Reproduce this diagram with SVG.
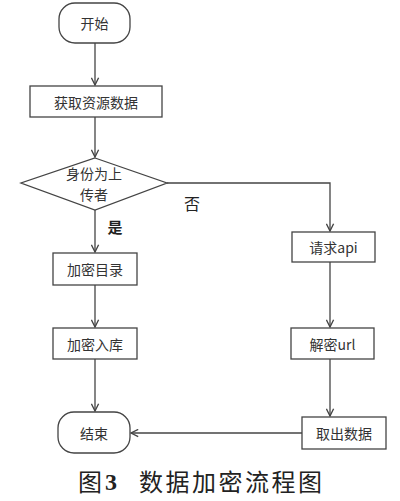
<svg xmlns="http://www.w3.org/2000/svg" width="400" height="501" viewBox="0 0 400 501">
<defs>
<style>
.n{fill:#fff;stroke:#444;stroke-width:1.3}
.t{font-family:"Noto Sans CJK SC",sans-serif;font-size:14px;fill:#333;text-anchor:middle;dominant-baseline:central}
.c{fill:none;stroke:#444;stroke-width:1.3}
.l{font-family:"Noto Sans CJK SC",sans-serif;fill:#222;text-anchor:middle;dominant-baseline:central}
</style>
<marker id="a" viewBox="0 0 10 10" refX="9" refY="5" markerWidth="9" markerHeight="9" markerUnits="userSpaceOnUse" orient="auto">
<polyline points="1,1 9,5 1,9" fill="none" stroke="#444" stroke-width="1.5"/>
</marker>
</defs>
<rect width="400" height="501" fill="#fff"/>
<g id="connectors">
<line class="c" x1="95" y1="43" x2="95" y2="85" marker-end="url(#a)"/>
<line class="c" x1="95" y1="117" x2="95" y2="157" marker-end="url(#a)"/>
<polyline class="c" points="167,183 330,183 330,231" marker-end="url(#a)"/>
<line class="c" x1="95" y1="210" x2="95" y2="252" marker-end="url(#a)"/>
<line class="c" x1="95" y1="285" x2="95" y2="327" marker-end="url(#a)"/>
<line class="c" x1="95" y1="359" x2="95" y2="411" marker-end="url(#a)"/>
<line class="c" x1="330" y1="262" x2="330" y2="327" marker-end="url(#a)"/>
<line class="c" x1="330" y1="359" x2="330" y2="416" marker-end="url(#a)"/>
<line class="c" x1="302" y1="433" x2="131" y2="433" marker-end="url(#a)"/>
<text class="l" x="192" y="203" font-size="16">否</text>
<text class="l" x="115" y="226" font-size="15" font-weight="bold">是</text>
</g>
<g id="start"><rect class="n" x="59" y="3" width="71" height="40" rx="16"/><text class="t" x="94.5" y="23">开始</text></g>
<g id="fetch"><rect class="n" x="30" y="86" width="132" height="31"/><text class="t" x="96" y="101.5">获取资源数据</text></g>
<g id="decision"><polygon class="n" points="95,158 167,183 95,210 21,183"/><text class="t" x="94" y="173" font-size="13.5">身份为上</text><text class="t" x="94" y="194" font-size="13.5">传者</text></g>
<g id="encdir"><rect class="n" x="53" y="253" width="84" height="32"/><text class="t" x="95" y="269">加密目录</text></g>
<g id="encdb"><rect class="n" x="53" y="328" width="84" height="31"/><text class="t" x="95" y="343.5">加密入库</text></g>
<g id="end"><rect class="n" x="58" y="412" width="72" height="41" rx="16"/><text class="t" x="94" y="432.5">结束</text></g>
<g id="api"><rect class="n" x="292" y="232" width="83" height="30"/><text class="t" x="333.5" y="247">请求api</text></g>
<g id="decurl"><rect class="n" x="291" y="328" width="83" height="31"/><text class="t" x="332.5" y="343.5">解密url</text></g>
<g id="take"><rect class="n" x="302" y="417" width="84" height="32"/><text class="t" x="344" y="433">取出数据</text></g>
<g id="caption">
<text x="78" y="491" font-family="Noto Sans CJK SC,sans-serif" font-size="24" fill="#222">图</text>
<text x="105" y="490" font-family="Liberation Serif,serif" font-size="24" font-weight="bold" fill="#222">3</text>
<text x="139" y="491" font-family="Noto Sans CJK SC,sans-serif" font-size="24" letter-spacing="2.5" fill="#222">数据加密流程图</text>
</g>
</svg>
